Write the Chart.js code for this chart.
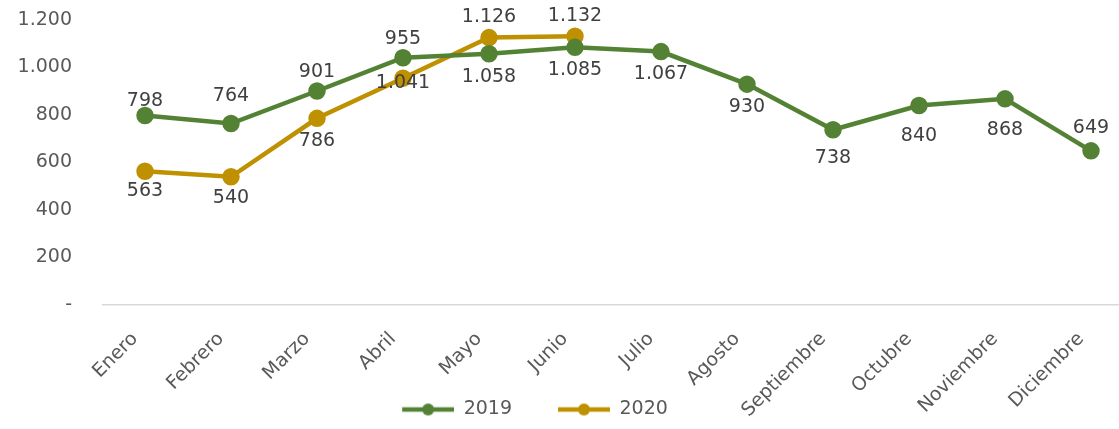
<!DOCTYPE html>
<html>
<head>
<meta charset="utf-8">
<script src="https://cdn.jsdelivr.net/npm/chart.js@4.4.1/dist/chart.umd.min.js"></script>
<style>
  html, body { margin: 0; padding: 0; background: #fff; overflow: hidden; }
  #wrap { position: relative; width: 1144px; height: 429px; }
</style>
</head>
<body>
<div id="wrap"><canvas id="grafico"></canvas></div>
<script>
// Datos del gráfico
const meses = ['Enero', 'Febrero', 'Marzo', 'Abril', 'Mayo', 'Junio', 'Julio', 'Agosto', 'Septiembre', 'Octubre', 'Noviembre', 'Diciembre'];
const valores2019 = [798, 764, 901, 1041, 1058, 1085, 1067, 930, 738, 840, 868, 649];
const valores2020 = [563, 540, 786, 955, 1126, 1132, null, null, null, null, null, null];
const ticksY = [0, 200, 400, 600, 800, 1000, 1200];

// desplazamiento vertical de cada etiqueta respecto a su punto (px)
const etiq2019 = [-14, -27, -19, 25, 23, 23, 22, 23, 28, 31, 31, -23];
const etiq2020 = [20, 21, 23, -39, -21, -20];

const verde = '#548235';
const dorado = '#BF9000';
const gris = '#595959';
const fuente = 'DejaVu Sans';

function formato(v) {
    if (v === 0) return '-';
    return String(v).replace(/\B(?=(\d{3})+(?!\d))/g, '.');
}

// icono de la leyenda: línea con círculo, pegado a la derecha
function iconoLeyenda(color) {
    const c = document.createElement('canvas');
    c.width = 88;
    c.height = 14;
    const ctx = c.getContext('2d');
    ctx.strokeStyle = color;
    ctx.lineWidth = 4.5;
    ctx.beginPath();
    ctx.moveTo(36, 7);
    ctx.lineTo(88, 7);
    ctx.stroke();
    ctx.fillStyle = color;
    ctx.beginPath();
    ctx.arc(62, 7, 6, 0, Math.PI * 2);
    ctx.fill();
    return c;
}
const iconos = [iconoLeyenda(verde), iconoLeyenda(dorado)];

// etiquetas de datos sobre los puntos
const etiquetas = {
    id: 'etiquetas',
    afterLayout(chart) {
        // que las etiquetas giradas del eje x no se recorten
        chart.scales.x.bottom = chart.height;
    },
    afterDatasetsDraw(chart) {
        const ctx = chart.ctx;
        const desplaz = [etiq2019, etiq2020];
        ctx.save();
        ctx.font = '19px "' + fuente + '"';
        ctx.fillStyle = '#404040';
        ctx.textAlign = 'center';
        ctx.textBaseline = 'middle';
        chart.data.datasets.forEach((ds, i) => {
            chart.getDatasetMeta(i).data.forEach((p, j) => {
                const v = ds.data[j];
                if (v == null) return;
                ctx.fillText(formato(v), p.x, p.y + desplaz[i][j]);
            });
        });
        ctx.restore();
    }
};

Chart.defaults.font.family = fuente;
Chart.defaults.color = gris;

new Chart(document.getElementById('grafico').getContext('2d'), {
    type: 'line',
    data: {
        labels: meses,
        datasets: [{
            label: '2019',
            data: valores2019,
            borderColor: verde,
            backgroundColor: verde,
            borderWidth: 4.5,
            pointRadius: 6.5,
            pointHoverRadius: 6.5,
            tension: 0
        }, {
            label: '2020',
            data: valores2020,
            borderColor: dorado,
            backgroundColor: dorado,
            borderWidth: 4.5,
            pointRadius: 6.5,
            pointHoverRadius: 6.5,
            tension: 0
        }]
    },
    options: {
        responsive: true,
        maintainAspectRatio: false,
        animation: false,
        layout: {
            autoPadding: false,
            padding: { left: -100, right: 10, top: 20, bottom: 0 }
        },
        plugins: {
            tooltip: { enabled: false },
            legend: {
                position: 'bottom',
                labels: {
                    font: { size: 19 },
                    color: gris,
                    usePointStyle: true,
                    pointStyleWidth: 88,
                    padding: 10,
                    generateLabels: chart => chart.data.datasets.map((ds, i) => ({
                        text: ds.label,
                        fontColor: gris,
                        pointStyle: iconos[i],
                        fillStyle: ds.borderColor,
                        strokeStyle: 'transparent',
                        lineWidth: 0,
                        hidden: !chart.isDatasetVisible(i),
                        datasetIndex: i
                    }))
                }
            }
        },
        scales: {
            x: {
                offset: true,
                grid: { display: false, offset: true },
                border: { display: false },
                ticks: {
                    font: { size: 19 },
                    color: gris,
                    minRotation: 45,
                    maxRotation: 45,
                    autoSkip: false,
                    padding: 15,
                    labelOffset: -10
                },
                afterFit: axis => { axis.height = 85; }
            },
            y: {
                min: 0,
                max: 1200,
                afterBuildTicks: axis => { axis.ticks = ticksY.map(v => ({ value: v })); },
                grid: {
                    drawTicks: true,
                    tickLength: 26,
                    tickColor: 'transparent',
                    lineWidth: 1.5,
                    color: c => c.tick && c.tick.value === 0 ? '#d9d9d9' : 'transparent'
                },
                border: { display: false },
                ticks: {
                    font: { size: 19 },
                    color: gris,
                    padding: 4,
                    callback: v => formato(v)
                },
                afterFit: axis => { axis.width = 202; }
            }
        }
    },
    plugins: [etiquetas]
});
</script>
</body>
</html>
